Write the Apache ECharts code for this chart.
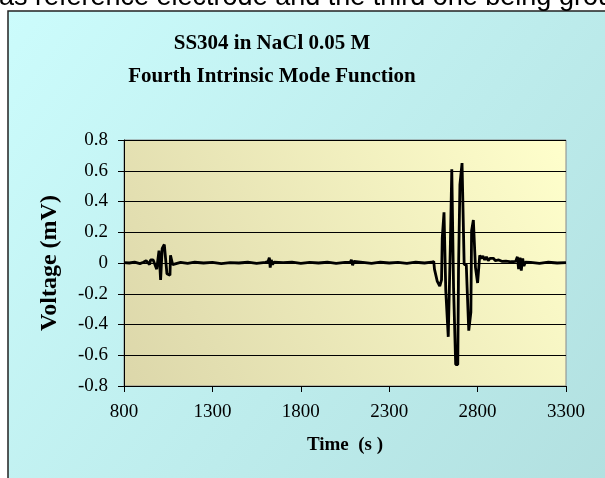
<!DOCTYPE html>
<html>
<head>
<meta charset="utf-8">
<script src="https://cdn.jsdelivr.net/npm/echarts@6/dist/echarts.min.js"></script>
<style>
  html, body { margin: 0; padding: 0; background: #fff; }
  #main { width: 605px; height: 478px; }
</style>
</head>
<body>
<div id="main"></div>
<script>
// time (s) and voltage (mV)
const times = [
  800, 830, 860, 890, 910,
  920, 925, 935, 945, 950, 965, 975, 985, 992, 998, 1003, 1007, 1013, 1016, 1024,
  1028, 1038, 1043, 1050, 1060, 1063, 1070, 1075, 1085,
  1120, 1160, 1200, 1250, 1300, 1350, 1400, 1450, 1500, 1550, 1600,
  1615, 1622, 1627, 1633, 1640, 1648,
  1700, 1750, 1800, 1850, 1900, 1950, 2000, 2050,
  2080, 2086, 2093, 2100, 2108,
  2150, 2200, 2250, 2300, 2350, 2400, 2450, 2500, 2540,
  2552, 2556, 2566, 2572, 2580, 2586, 2592, 2596, 2600, 2606, 2610, 2616,
  2620, 2630, 2634, 2642, 2646, 2650, 2654, 2660, 2664, 2672, 2676, 2688,
  2692, 2697, 2700, 2708, 2712, 2720, 2724, 2736, 2740, 2746, 2750, 2758,
  2762, 2766, 2772, 2776, 2784, 2788, 2796, 2800, 2808, 2812,
  2820, 2830, 2840, 2850, 2860, 2870, 2880, 2890, 2900, 2920, 2940, 2960, 2990,
  3015, 3025, 3032, 3040, 3047, 3055, 3062, 3070,
  3100, 3150, 3200, 3250, 3300
];
const volts = [
  0.003, 0.0, 0.006, -0.004, 0.005,
  0.0, 0.015, 0.015, -0.01, 0.02, 0.02, 0.025, -0.04, -0.04, 0.08, 0.09, -0.11, -0.11, 0.095, 0.095,
  0.12, 0.12, -0.07, -0.08, -0.08, 0.05, 0.05, -0.01, 0.0,
  0.004, -0.003, 0.005, 0.0, 0.004, -0.004, 0.003, 0.0, 0.005, -0.003, 0.004,
  0.01, 0.035, -0.03, 0.02, -0.01, 0.005,
  0.002, 0.005, -0.003, 0.004, 0.0, 0.005, -0.002, 0.004,
  0.005, 0.02, -0.015, 0.01, 0.0,
  0.004, -0.003, 0.005, 0.0, 0.004, -0.003, 0.005, 0.0, 0.005,
  0.01, -0.04, -0.05, -0.12, -0.13, -0.15, -0.15, -0.11, 0.16, 0.17, 0.33, 0.33,
  -0.18, -0.19, -0.48, -0.48, 0.12, 0.12, 0.61, 0.61, -0.16, -0.16, -0.66, -0.66,
  -0.05, -0.05, 0.51, 0.51, 0.65, 0.65, -0.01, -0.01, -0.14, -0.14, -0.44, -0.44,
  -0.32, 0.21, 0.21, 0.28, 0.28, -0.03, -0.03, -0.13, -0.13, 0.05,
  0.03, 0.045, 0.02, 0.04, 0.015, 0.03, 0.02, 0.03, 0.015, 0.02, 0.01, 0.012, 0.008,
  0.01, 0.04, -0.04, 0.035, -0.05, 0.03, -0.02, 0.005,
  0.004, -0.002, 0.005, 0.0, 0.003
];
const titleLines = ['SS304 in NaCl 0.05 M', 'Fourth Intrinsic Mode Function'];
const xName = 'Time  (s )';
const yName = 'Voltage (mV)';

const chart = echarts.init(document.getElementById('main'));
const serif = '"Liberation Serif", "Times New Roman", serif';

chart.setOption({
  animation: false,
  backgroundColor: '#fff',
  graphic: [
    {
      type: 'rect', z: -10,
      shape: { x: 8, y: 11, width: 700, height: 520 },
      style: {
        fill: new echarts.graphic.LinearGradient(0, 0, 1, 1, [
          { offset: 0, color: '#ccfcfc' },
          { offset: 1, color: '#aedcdc' }
        ]),
        stroke: '#222', lineWidth: 1.5
      }
    },
    {
      type: 'text', z: -5, left: -1, top: -16,
      style: {
        text: 'as reference electrode and the third one being grou',
        font: '27px "Liberation Sans", Arial, sans-serif',
        fill: '#000'
      }
    }
  ],
  title: {
    text: titleLines.join('\n'),
    left: 267, top: 22, textAlign: 'center',
    textStyle: { fontFamily: serif, fontWeight: 'bold', fontSize: 21, lineHeight: 33, color: '#000' }
  },
  grid: {
    left: 124, top: 140, right: 39, bottom: 92,
    show: true,
    borderColor: '#888', borderWidth: 1,
    backgroundColor: new echarts.graphic.LinearGradient(1, 0, 0, 1, [
      { offset: 0, color: '#ffffcc' },
      { offset: 1, color: '#dcd7aa' }
    ])
  },
  xAxis: {
    type: 'value', min: 800, max: 3300, interval: 500,
    name: xName, nameLocation: 'middle', nameGap: 50,
    nameTextStyle: { fontFamily: serif, fontWeight: 'bold', fontSize: 19, color: '#000' },
    axisLine: { onZero: false, lineStyle: { color: '#000', width: 1 } },
    axisTick: { length: 6, lineStyle: { color: '#000' } },
    axisLabel: {
      margin: 17, fontFamily: serif, fontSize: 19, color: '#000',
      formatter: v => String(v)
    },
    splitLine: { show: false }
  },
  yAxis: {
    type: 'value', min: -0.8, max: 0.8, interval: 0.2,
    name: yName, nameLocation: 'middle', nameGap: 62, nameRotate: 90,
    nameTextStyle: { fontFamily: serif, fontWeight: 'bold', fontSize: 24, color: '#000' },
    axisLine: { lineStyle: { color: '#000', width: 1 } },
    axisTick: { length: 6, lineStyle: { color: '#000' } },
    axisLabel: {
      margin: 16, fontFamily: serif, fontSize: 19, color: '#000',
      formatter: v => String(Math.round(v * 10) / 10)
    },
    splitLine: { lineStyle: { color: '#000', width: 1 } }
  },
  series: [{
    type: 'line',
    data: times.map((t, i) => [t, volts[i]]),
    showSymbol: false,
    lineStyle: { color: '#000', width: 2.8 },
    z: 5
  }]
});
</script>
</body>
</html>
